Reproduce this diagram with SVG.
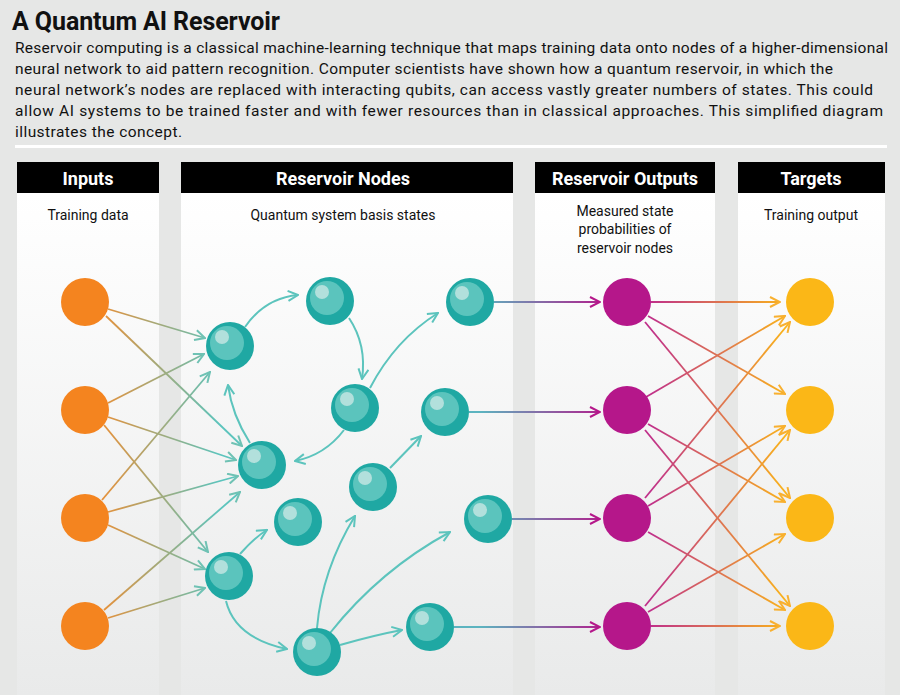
<svg xmlns="http://www.w3.org/2000/svg" width="900" height="695" viewBox="0 0 900 695">
<defs>
<style>
.t{font-family:Roboto,"Liberation Sans",sans-serif;fill:#111}
.h{font-family:Roboto,"Liberation Sans",sans-serif;font-weight:bold;font-size:18px;fill:#fff;text-anchor:middle}
.s{font-family:Roboto,"Liberation Sans",sans-serif;font-size:14px;fill:#111;text-anchor:middle}
.in{fill:none;stroke:url(#gi);stroke-width:1.8}
.r{fill:none;stroke:#5cc4bd;stroke-width:2}
.o{fill:none;stroke:url(#go);stroke-width:1.8}
.p{fill:none;stroke:url(#gp);stroke-width:1.8}
</style>
<linearGradient id="col" x1="0" y1="0" x2="0" y2="1"><stop offset="0" stop-color="#fff"/><stop offset="1" stop-color="#e9eaea"/></linearGradient>
<linearGradient id="gi" gradientUnits="userSpaceOnUse" x1="100" y1="0" x2="220" y2="0"><stop offset="0" stop-color="#e89038"/><stop offset="1" stop-color="#5cc4bd"/></linearGradient>
<linearGradient id="go" gradientUnits="userSpaceOnUse" x1="480" y1="0" x2="610" y2="0"><stop offset="0" stop-color="#5cb4c0"/><stop offset="1" stop-color="#b5178a"/></linearGradient>
<linearGradient id="gp" gradientUnits="userSpaceOnUse" x1="650" y1="0" x2="790" y2="0"><stop offset="0" stop-color="#c0308a"/><stop offset="1" stop-color="#fbb717"/></linearGradient>
<marker id="ai" viewBox="0 0 12 12" refX="11" refY="6" markerWidth="12" markerHeight="12" markerUnits="userSpaceOnUse" orient="auto"><path d="M1 1L11 6L1 11" fill="none" stroke="#6fc2b4" stroke-width="2"/></marker>
<marker id="ar" viewBox="0 0 12 12" refX="11" refY="6" markerWidth="12" markerHeight="12" markerUnits="userSpaceOnUse" orient="auto"><path d="M1 1L11 6L1 11" fill="none" stroke="#5cc4bd" stroke-width="2"/></marker>
<marker id="ao" viewBox="0 0 12 12" refX="11" refY="6" markerWidth="12" markerHeight="12" markerUnits="userSpaceOnUse" orient="auto"><path d="M1 1L11 6L1 11" fill="none" stroke="#b5178a" stroke-width="2"/></marker>
<marker id="ap" viewBox="0 0 12 12" refX="11" refY="6" markerWidth="12" markerHeight="12" markerUnits="userSpaceOnUse" orient="auto"><path d="M1 1L11 6L1 11" fill="none" stroke="#f8b030" stroke-width="2"/></marker>
<g id="q"><circle r="24" fill="#1fa8a3"/><circle cx="-3" cy="-3" r="17" fill="#5bc4bd"/><circle cx="-8" cy="-9" r="7" fill="#b2e0dc"/></g>
</defs>
<rect width="900" height="695" fill="#e6e7e6"/>
<text class="t" x="12" y="30" font-size="25" font-weight="bold" textLength="268">A Quantum AI Reservoir</text>
<g class="t" font-size="15.5">
<text x="15" y="53" textLength="873">Reservoir computing is a classical machine-learning technique that maps training data onto nodes of a higher-dimensional</text>
<text x="15" y="74" textLength="818">neural network to aid pattern recognition. Computer scientists have shown how a quantum reservoir, in which the</text>
<text x="15" y="95" textLength="858">neural network’s nodes are replaced with interacting qubits, can access vastly greater numbers of states. This could</text>
<text x="15" y="116" textLength="868">allow AI systems to be trained faster and with fewer resources than in classical approaches. This simplified diagram</text>
<text x="15" y="137" textLength="167">illustrates the concept.</text>
</g>
<rect x="15" y="145" width="872" height="3" fill="#fff"/>
<g id="columns">
<rect x="17" y="193" width="142" height="502" fill="url(#col)"/><rect x="17" y="162" width="142" height="31" fill="#000"/>
<rect x="181" y="193" width="332" height="502" fill="url(#col)"/><rect x="181" y="162" width="332" height="31" fill="#000"/>
<rect x="535" y="193" width="180" height="502" fill="url(#col)"/><rect x="535" y="162" width="180" height="31" fill="#000"/>
<rect x="738" y="193" width="147" height="502" fill="url(#col)"/><rect x="738" y="162" width="147" height="31" fill="#000"/>
<text class="h" x="88" y="185">Inputs</text>
<text class="h" x="343" y="185">Reservoir Nodes</text>
<text class="h" x="625" y="185">Reservoir Outputs</text>
<text class="h" x="811" y="185">Targets</text>
<text class="s" x="88" y="220">Training data</text>
<text class="s" x="343" y="220">Quantum system basis states</text>
<text class="s" x="625" y="216">Measured state</text>
<text class="s" x="625" y="234">probabilities of</text>
<text class="s" x="625" y="253">reservoir nodes</text>
<text class="s" x="811" y="220">Training output</text>
</g>
<g id="connectors">
<path class="in" marker-end="url(#ai)" d="M108 309L205 338"/>
<path class="in" marker-end="url(#ai)" d="M106 316L242 446"/>
<path class="in" marker-end="url(#ai)" d="M108 403L204 354"/>
<path class="in" marker-end="url(#ai)" d="M108 417L236 460"/>
<path class="in" marker-end="url(#ai)" d="M104 425L208 552"/>
<path class="in" marker-end="url(#ai)" d="M102 500L210 372"/>
<path class="in" marker-end="url(#ai)" d="M108 512L238 476"/>
<path class="in" marker-end="url(#ai)" d="M108 525L205 569"/>
<path class="in" marker-end="url(#ai)" d="M104 610L240 492"/>
<path class="in" marker-end="url(#ai)" d="M108 618L205 588"/>
<path class="r" marker-end="url(#ar)" d="M245 327Q265 298 298 295"/>
<path class="r" marker-end="url(#ar)" d="M349 318Q367 345 362 379"/>
<path class="r" marker-end="url(#ar)" d="M370 388Q395 340 438 313"/>
<path class="r" marker-end="url(#ar)" d="M344 430Q325 455 295 461"/>
<path class="r" marker-end="url(#ar)" d="M250 443Q232 415 228 385"/>
<path class="r" marker-end="url(#ar)" d="M390 468L421 436"/>
<path class="r" marker-end="url(#ar)" d="M240 554Q255 537 267 530"/>
<path class="r" marker-end="url(#ar)" d="M226 601Q235 638 287 649"/>
<path class="r" marker-end="url(#ar)" d="M317 628Q322 570 355 516"/>
<path class="r" marker-end="url(#ar)" d="M330 633Q380 570 450 532"/>
<path class="r" marker-end="url(#ar)" d="M340 645Q375 635 402 630"/>
<path class="o" marker-end="url(#ao)" d="M494 302L600 302"/>
<path class="o" marker-end="url(#ao)" d="M469 412L600 412"/>
<path class="o" marker-end="url(#ao)" d="M512 519L600 519"/>
<path class="o" marker-end="url(#ao)" d="M454 627L600 627"/>
<path class="p" marker-end="url(#ap)" d="M651 302L780 302"/>
<path class="p" marker-end="url(#ap)" d="M648 316L785 394"/>
<path class="p" marker-end="url(#ap)" d="M645 322L790 498"/>
<path class="p" marker-end="url(#ap)" d="M646 397L785 316"/>
<path class="p" marker-end="url(#ap)" d="M648 424L785 502"/>
<path class="p" marker-end="url(#ap)" d="M645 430L790 606"/>
<path class="p" marker-end="url(#ap)" d="M645 498L790 322"/>
<path class="p" marker-end="url(#ap)" d="M648 506L785 426"/>
<path class="p" marker-end="url(#ap)" d="M648 532L785 610"/>
<path class="p" marker-end="url(#ap)" d="M645 606L790 430"/>
<path class="p" marker-end="url(#ap)" d="M648 612L785 534"/>
<path class="p" marker-end="url(#ap)" d="M651 626L780 626"/>
</g>
<g id="inputs" fill="#f4841f">
<circle id="in1" cx="85" cy="302" r="24"/><circle id="in2" cx="85" cy="410" r="24"/><circle id="in3" cx="85" cy="518" r="24"/><circle id="in4" cx="85" cy="626" r="24"/>
</g>
<g id="reservoir">
<use id="rA" href="#q" x="230" y="346"/><use id="rB" href="#q" x="330" y="301"/><use id="rC" href="#q" x="470" y="302"/>
<use id="rD" href="#q" x="355" y="408"/><use id="rE" href="#q" x="262" y="465"/><use id="rF" href="#q" x="445" y="412"/>
<use id="rG" href="#q" x="373" y="487"/><use id="rH" href="#q" x="298" y="522"/><use id="rI" href="#q" x="229" y="576"/>
<use id="rJ" href="#q" x="317" y="652"/><use id="rK" href="#q" x="488" y="519"/><use id="rL" href="#q" x="430" y="627"/>
</g>
<g id="outputs" fill="#b5178a">
<circle id="o1" cx="627" cy="302" r="24"/><circle id="o2" cx="627" cy="410" r="24"/><circle id="o3" cx="627" cy="518" r="24"/><circle id="o4" cx="627" cy="626" r="24"/>
</g>
<g id="targets" fill="#fbb717">
<circle id="t1" cx="810" cy="302" r="24"/><circle id="t2" cx="810" cy="410" r="24"/><circle id="t3" cx="810" cy="518" r="24"/><circle id="t4" cx="810" cy="626" r="24"/>
</g>
</svg>
